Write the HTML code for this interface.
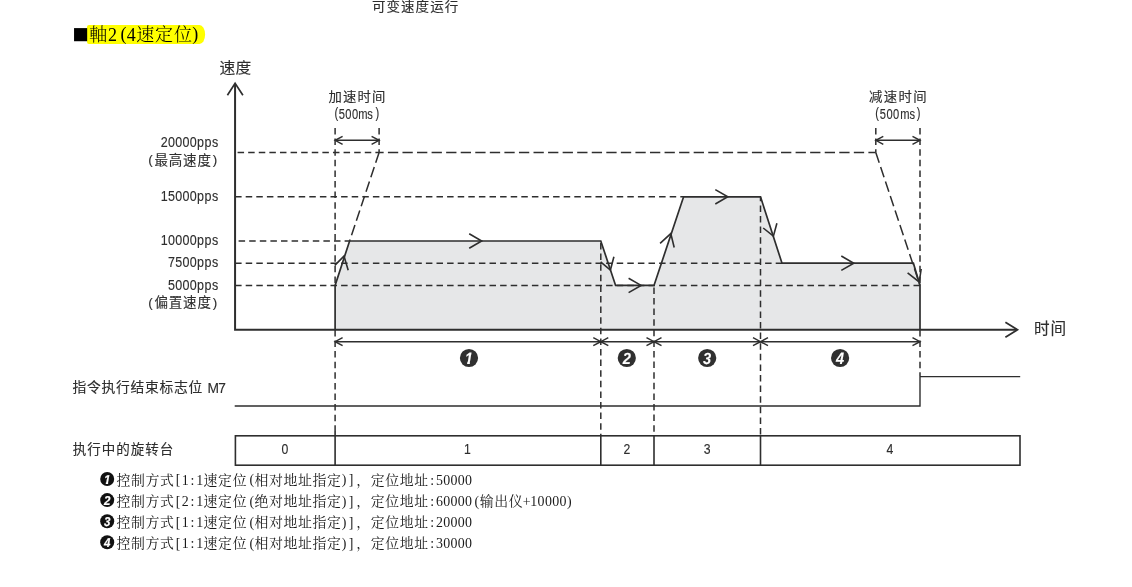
<!DOCTYPE html>
<html lang="zh-CN">
<head>
<meta charset="utf-8">
<title>可变速度运行</title>
<style>
html,body{margin:0;padding:0;background:#fff;}
body{width:1132px;height:587px;overflow:hidden;position:relative;}
svg{position:absolute;left:0;top:0;display:block;will-change:transform;}
.g{font-family:"Liberation Sans","Noto Sans CJK SC",sans-serif;fill:#2e2e2e;stroke:#2e2e2e;stroke-width:0.13px;}
.s{font-family:"Liberation Serif","Noto Serif CJK SC",serif;fill:#1a1a1a;}
.h{font-family:"Liberation Serif","Noto Serif CJK SC",serif;fill:#000;}
.ln{stroke:#2e2e2e;fill:none;}
.c{font-family:"Liberation Sans",sans-serif;font-weight:bold;font-style:italic;fill:#fff;text-anchor:middle;text-rendering:geometricPrecision;}
</style>
</head>
<body>
<svg width="1132" height="587" viewBox="0 0 1132 587">
<rect width="1132" height="587" fill="#fff"/>

<!-- top caption -->
<text class="g" x="364.16 378.15 392.14 406.13 420.12 434.11" y="11.00" font-size="13.00" text-anchor="middle" transform="scale(1.0400,1)">可变速度运行</text>
<!-- heading -->
<path d="M89 24.9 H199.5 A5.6 9.55 0 0 1 199.5 44 H89 Q87 44 87 42 V26.9 Q87 24.9 89 24.9 Z" fill="#ffff00"/>
<text class="h" x="72.3" y="42.85" font-size="27.2">■</text>
<text class="h" x="98.30 112.40 123.40 131.20 145.30 164.10 182.90 195.30" y="41.30 41.30 39.90 41.30 41.30 41.30 41.30 39.90" font-size="18.00" text-anchor="middle" font-weight="300">軸2(4速定位)</text>
<!-- shaded speed profile -->
<path d="M335.1 285.4 L349.6 241.0 L600.8 241.0 L615.6 285.4 L654.0 285.4 L683.6 196.8 L760.5 196.8 L782.0 263.2 L913.4 263.2 L920.0 285.4 L920.0 329.9 L335.1 329.9 Z" fill="#e6e7e8"/>
<!-- dashed guide lines -->
<g class="ln" stroke-width="1.5" stroke-dasharray="6.5 4.1">
<path stroke-dashoffset="-2.5" d="M235.07 152.4 H379.1"/>
<path d="M235.1 196.8 H683.6"/>
<path d="M238.6 241.0 H349.6"/>
<path d="M235.1 263.2 H782.0"/>
<path d="M235.1 285.4 H920.0"/>
<path d="M335.1 128 V285.4"/>
<path d="M379.1 128 V152.4"/>
<path d="M875.8 128 V152.4"/>
<path d="M920.0 128 V285.4"/>
<path d="M335.1 329.9 V431"/>
<path stroke-dashoffset="-2" d="M600.8 241.0 V436"/>
<path stroke-dashoffset="-2" d="M654.0 285.4 V436"/>
<path stroke-dashoffset="2" d="M760.5 196.8 V436"/>
<path d="M920.0 329.9 V376"/>
</g>
<g class="ln" stroke-width="1.5" stroke-dasharray="10.3 4.26">
<path stroke-dashoffset="5.75" d="M379.1 152.4 H875.8"/>
</g>
<g class="ln" stroke-width="1.5" stroke-dasharray="10.8 4.5">
<path d="M379.1 152.4 L349.6 241.0"/>
<path d="M875.8 152.4 L920.0 285.4"/>
</g>
<!-- speed profile outline -->
<path class="ln" stroke-width="1.7" stroke-linejoin="miter" d="M335.1 329.9 V285.4 L349.6 241.0 L600.8 241.0 L615.6 285.4 L654.0 285.4 L683.6 196.8 L760.5 196.8 L782.0 263.2 L913.4 263.2 L920.0 285.4 V329.9"/>
<!-- axes -->
<g class="ln" stroke-width="2">
<path d="M235.07 84 V329.85 H1016.5"/>
</g>
<g class="ln" stroke-width="1.7">
<path d="M227.4 95.2 L235.1 83.4 L242.9 95.2"/>
<path d="M1005.4 322.2 L1017.5 329.8 L1005.4 337.3"/>
</g>
<!-- direction arrows on profile -->
<g class="ln" stroke-width="1.6">
<path d="M469.2 233.8 L481.7 241.0 L469.2 248.2"/>
<path d="M628.6 278.2 L641.1 285.4 L628.6 292.6"/>
<path d="M715.3 189.6 L727.8 196.8 L715.3 204.0"/>
<path d="M841.3 256.0 L853.8 263.2 L841.3 270.4"/>
<path d="M334.8 265.4 L344.0 256.1 L348.2 270.2"/>
<path d="M600.6 261.8 L610.4 270 L613.9 256.7"/>
<path d="M660.1 243.4 L670.8 233.6 L674.2 247.5"/>
<path d="M763.2 228 L773.4 236.2 L776.9 223.3"/>
<path d="M907.6 272.9 L919.2 282 L921.2 269"/>
</g>
<!-- dimension arrows -->
<g class="ln" stroke-width="1.45">
<path d="M335.1 140.3 H379.1"/>
<path d="M342.6 136.3 L335.1 140.3 L342.6 144.3"/>
<path d="M371.6 136.3 L379.1 140.3 L371.6 144.3"/>
<path d="M875.8 140.3 H920.0"/>
<path d="M883.3 136.3 L875.8 140.3 L883.3 144.3"/>
<path d="M912.5 136.3 L920.0 140.3 L912.5 144.3"/>
<path d="M335.1 341.7 H600.8"/>
<path d="M342.6 337.7 L335.1 341.7 L342.6 345.7"/>
<path d="M593.3 337.7 L600.8 341.7 L593.3 345.7"/>
<path d="M600.8 341.7 H654.0"/>
<path d="M608.3 337.7 L600.8 341.7 L608.3 345.7"/>
<path d="M646.5 337.7 L654.0 341.7 L646.5 345.7"/>
<path d="M654.0 341.7 H760.5"/>
<path d="M661.5 337.7 L654.0 341.7 L661.5 345.7"/>
<path d="M753.0 337.7 L760.5 341.7 L753.0 345.7"/>
<path d="M760.5 341.7 H920.0"/>
<path d="M768.0 337.7 L760.5 341.7 L768.0 345.7"/>
<path d="M912.5 337.7 L920.0 341.7 L912.5 345.7"/>
</g>
<!-- M7 flag signal -->
<path class="ln" stroke-width="1.4" d="M234.7 406.0 H920.0 V376.6 H1020.2"/>
<!-- rotary table row -->
<g class="ln" stroke-width="1.6">
<rect x="235.4" y="435.8" width="784.6" height="29.4"/>
<path d="M335.1 431 V465.2 M600.8 435.8 V465.2 M654.0 435.8 V465.2 M760.5 435.8 V465.2"/>
</g>
<!-- circled step numbers -->
<circle cx="469.0" cy="358.00" r="9.1" fill="#303030"/>
<clipPath id="k1"><path d="M459.80 347.70 H478.00 V361.78 H469.94 L469.79 364.90 H466.99 L467.29 361.78 H459.80 Z"/></clipPath>
<g clip-path="url(#k1)"><text class="c" x="468.9" y="363.90" font-size="16.2" stroke="#fff" stroke-width="0.10" transform="translate(468.9 0) scale(0.90,1) translate(-468.9 0)">1</text></g>
<circle cx="626.8" cy="358.00" r="9.1" fill="#303030"/>
<text class="c" x="626.7" y="363.90" font-size="16.2" stroke="#fff" stroke-width="0.10" transform="translate(626.7 0) scale(0.90,1) translate(-626.7 0)">2</text>
<circle cx="707.2" cy="358.00" r="9.1" fill="#303030"/>
<text class="c" x="707.1" y="363.90" font-size="16.2" stroke="#fff" stroke-width="0.10" transform="translate(707.1 0) scale(0.90,1) translate(-707.1 0)">3</text>
<circle cx="840.1" cy="358.00" r="9.1" fill="#303030"/>
<text class="c" x="840.0" y="363.90" font-size="16.2" stroke="#fff" stroke-width="0.10" transform="translate(840.0 0) scale(0.90,1) translate(-840.0 0)">4</text>
<!-- axis labels -->
<text class="g" x="216.52 231.86" y="73.50" font-size="15.00" text-anchor="middle" transform="scale(1.0500,1)">速度</text>
<text class="g" x="1041.85 1058.35" y="334.30" font-size="15.60" text-anchor="middle">时间</text>
<text class="g" x="325.32 339.44 353.57 367.69" y="101.20" font-size="13.00" text-anchor="middle" transform="scale(1.0300,1)">加速时间</text>
<text class="g" x="420.38 427.25 435.50 443.88 453.75 462.62 471.75" y="118.10 119.00 119.00 119.00 119.00 119.00 118.10" font-size="13.90" text-anchor="middle" transform="scale(0.8000,1)">(500ms)</text>
<text class="g" x="850.17 864.49 878.81 893.13" y="101.10" font-size="13.00" text-anchor="middle" transform="scale(1.0300,1)">减速时间</text>
<text class="g" x="1096.25 1103.62 1111.88 1120.25 1131.00 1140.25 1148.12" y="117.90 118.80 118.80 118.80 118.80 118.80 117.90" font-size="13.90" text-anchor="middle" transform="scale(0.8000,1)">(500ms)</text>
<text class="g" x="182.44 190.53 198.62 206.71 214.80 222.89 230.98 239.07" y="147.50" font-size="13.90" text-anchor="middle" transform="scale(0.9000,1)">20000pps</text>
<text class="g" x="150.45 161.25 175.55 189.85 204.15 214.95" y="164.10 164.60 164.60 164.60 164.60 164.10" font-size="13.50" text-anchor="middle">(最高速度)</text>
<text class="g" x="182.44 190.53 198.62 206.71 214.80 222.89 230.98 239.07" y="201.00" font-size="13.90" text-anchor="middle" transform="scale(0.9000,1)">15000pps</text>
<text class="g" x="182.44 190.53 198.62 206.71 214.80 222.89 230.98 239.07" y="245.10" font-size="13.90" text-anchor="middle" transform="scale(0.9000,1)">10000pps</text>
<text class="g" x="190.53 198.62 206.71 214.80 222.89 230.98 239.07" y="267.30" font-size="13.90" text-anchor="middle" transform="scale(0.9000,1)">7500pps</text>
<text class="g" x="190.53 198.62 206.71 214.80 222.89 230.98 239.07" y="290.00" font-size="13.90" text-anchor="middle" transform="scale(0.9000,1)">5000pps</text>
<text class="g" x="150.45 161.25 175.55 189.85 204.15 214.95" y="306.50 307.00 307.00 307.00 307.00 306.50" font-size="13.50" text-anchor="middle">(偏置速度)</text>
<text class="g" x="79.45 93.95 108.45 122.95 137.45 151.95 166.45 180.95 195.45 206.32 213.17 222.02" y="392.40 392.40 392.40 392.40 392.40 392.40 392.40 392.40 392.40 392.40 392.60 392.60" font-size="13.80" text-anchor="middle" xml:space="preserve">指令执行结束标志位 M7</text>
<text class="g" x="79.45 93.95 108.45 122.95 137.45 151.95 166.45" y="454.40" font-size="13.50" text-anchor="middle">执行中的旋转台</text>
<text class="g" x="323.64" y="454.50" font-size="13.90" text-anchor="middle" transform="scale(0.8800,1)">0</text>
<text class="g" x="531.25" y="454.50" font-size="13.90" text-anchor="middle" transform="scale(0.8800,1)">1</text>
<text class="g" x="712.39" y="454.50" font-size="13.90" text-anchor="middle" transform="scale(0.8800,1)">2</text>
<text class="g" x="803.64" y="454.50" font-size="13.90" text-anchor="middle" transform="scale(0.8800,1)">3</text>
<text class="g" x="1011.14" y="454.50" font-size="13.90" text-anchor="middle" transform="scale(0.8800,1)">4</text>
<!-- notes -->
<circle cx="107.2" cy="479.00" r="7.0" fill="#111"/>
<clipPath id="k2"><path d="M100.30 470.70 H114.30 V481.82 H108.22 L108.07 484.50 H105.67 L105.97 481.82 H100.30 Z"/></clipPath>
<g clip-path="url(#k2)"><text class="c" x="107.3" y="483.50" font-size="12.8" stroke="#fff" stroke-width="0.20" transform="translate(107.3 0) scale(0.90,1) translate(-107.3 0)">1</text></g>
<text class="s" x="123.36 137.89 152.42 166.95 178.05 185.12 192.38 199.65 210.54 225.07 239.60 251.70 261.40 275.93 290.46 304.99 319.52 334.05 344.15 351.01 363.11 377.64 392.17 406.70 421.23 432.13 439.39 446.66 453.92 461.19 468.45" y="484.70 484.70 484.70 484.70 484.40 484.70 484.90 484.70 484.70 484.70 484.70 484.40 484.70 484.70 484.70 484.70 484.70 484.70 484.40 484.40 484.70 484.70 484.70 484.70 484.70 484.90 484.70 484.70 484.70 484.70 484.70" font-size="13.90" text-anchor="middle">控制方式[1:1速定位(相对地址指定)]，定位地址:50000</text>
<circle cx="107.2" cy="500.10" r="7.0" fill="#111"/>
<text class="c" x="107.3" y="504.60" font-size="12.8" stroke="#fff" stroke-width="0.20" transform="translate(107.3 0) scale(0.90,1) translate(-107.3 0)">2</text>
<text class="s" x="123.36 137.89 152.42 166.95 178.05 185.12 192.38 199.65 210.54 225.07 239.60 251.70 261.40 275.93 290.46 304.99 319.52 334.05 344.15 351.01 363.11 377.64 392.17 406.70 421.23 432.13 439.39 446.66 453.92 461.19 468.45 476.92 486.61 501.14 515.67 526.57 533.84 541.10 548.37 555.63 562.90 569.36" y="505.80 505.80 505.80 505.80 505.50 505.80 506.00 505.80 505.80 505.80 505.80 505.50 505.80 505.80 505.80 505.80 505.80 505.80 505.50 505.50 505.80 505.80 505.80 505.80 505.80 506.00 505.80 505.80 505.80 505.80 505.80 505.50 505.80 505.80 505.80 505.80 505.80 505.80 505.80 505.80 505.80 505.50" font-size="13.90" text-anchor="middle">控制方式[2:1速定位(绝对地址指定)]，定位地址:60000(输出仪+10000)</text>
<circle cx="107.2" cy="521.20" r="7.0" fill="#111"/>
<text class="c" x="107.3" y="525.70" font-size="12.8" stroke="#fff" stroke-width="0.20" transform="translate(107.3 0) scale(0.90,1) translate(-107.3 0)">3</text>
<text class="s" x="123.36 137.89 152.42 166.95 178.05 185.12 192.38 199.65 210.54 225.07 239.60 251.70 261.40 275.93 290.46 304.99 319.52 334.05 344.15 351.01 363.11 377.64 392.17 406.70 421.23 432.13 439.39 446.66 453.92 461.19 468.45" y="526.90 526.90 526.90 526.90 526.60 526.90 527.10 526.90 526.90 526.90 526.90 526.60 526.90 526.90 526.90 526.90 526.90 526.90 526.60 526.60 526.90 526.90 526.90 526.90 526.90 527.10 526.90 526.90 526.90 526.90 526.90" font-size="13.90" text-anchor="middle">控制方式[1:1速定位(相对地址指定)]，定位地址:20000</text>
<circle cx="107.2" cy="542.30" r="7.0" fill="#111"/>
<text class="c" x="107.3" y="546.80" font-size="12.8" stroke="#fff" stroke-width="0.20" transform="translate(107.3 0) scale(0.90,1) translate(-107.3 0)">4</text>
<text class="s" x="123.36 137.89 152.42 166.95 178.05 185.12 192.38 199.65 210.54 225.07 239.60 251.70 261.40 275.93 290.46 304.99 319.52 334.05 344.15 351.01 363.11 377.64 392.17 406.70 421.23 432.13 439.39 446.66 453.92 461.19 468.45" y="548.00 548.00 548.00 548.00 547.70 548.00 548.20 548.00 548.00 548.00 548.00 547.70 548.00 548.00 548.00 548.00 548.00 548.00 547.70 547.70 548.00 548.00 548.00 548.00 548.00 548.20 548.00 548.00 548.00 548.00 548.00" font-size="13.90" text-anchor="middle">控制方式[1:1速定位(相对地址指定)]，定位地址:30000</text>
</svg>
</body>
</html>
